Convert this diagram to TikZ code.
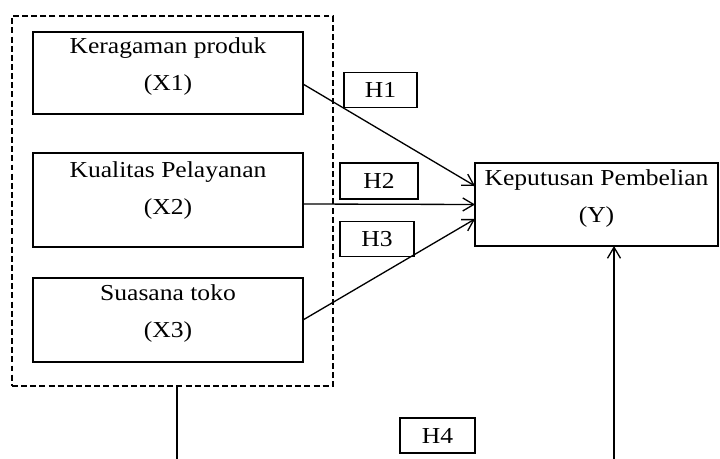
\documentclass[tikz,border=0pt]{standalone}
\usepackage{fontspec}
\setmainfont[FakeStretch=1.12]{Liberation Serif}
\usetikzlibrary{arrows.meta}

\begin{document}
\begin{tikzpicture}[x=0.02cm, y=-0.02cm, line width=0.75pt,
    font=\fontsize{13}{21.5}\selectfont,
    box/.style={draw, line width=0.85pt, align=center, inner sep=0pt, outer sep=0pt,
      minimum width=5.4cm, text depth=0.36cm},
    hbox/.style={draw, line width=0.85pt, inner sep=0pt, outer sep=0pt,
      minimum width=1.5cm, minimum height=0.7cm},
    grp/.style={draw, dashed, dash pattern=on 3.4pt off 1.8pt, line width=0.8pt,
      inner sep=0pt, minimum width=6.42cm, minimum height=7.4cm},
    pijl/.style={-{Straight Barb[length=2.2mm, width=2.6mm]}}]
    \useasboundingbox (0,0) rectangle (720,459);
    % variabel bebas
    \node[grp] (grp) at (172.5,201) {};
    \node[box, minimum height=1.64cm] (x1) at (168,73) {Keragaman produk\\(X1)};
    \node[box, minimum height=1.88cm, text depth=0.48cm] (x2) at (168,200) {Kualitas Pelayanan\\(X2)};
    \node[box, minimum height=1.68cm] (x3) at (168,320) {Suasana toko\\(X3)};
    % variabel terikat
    \node[box, minimum width=4.86cm, minimum height=1.66cm, text depth=0.34cm] (y) at (596.5,204.5)
      {Keputusan Pembelian\\(Y)};
    % hipotesis
    \node[hbox, minimum width=1.46cm] (h1) at (380.5,90) {H1};
    \node[hbox, minimum width=1.56cm, minimum height=0.72cm] (h2) at (379,181) {H2};
    \node[hbox, minimum width=1.48cm] (h3) at (377,239) {H3};
    \node[hbox] (h4) at (437.5,435.5) {H4};
    % panah
    \draw[pijl] ([yshift=-0.22cm]x1.east) -- ([yshift=0.37cm]y.west);
    \draw[pijl] ([yshift=-0.08cm]x2.east) -- (y.west);
    \draw[pijl] (x3.east) -- ([yshift=-0.29cm]y.west);
    \coordinate (c1) at (177,459);
    \coordinate (c2) at (614,459);
    \draw (c1 |- grp.south) -- (c1);
    \draw[pijl] (c2) -- (c2 |- y.south);
\end{tikzpicture}
\end{document}
